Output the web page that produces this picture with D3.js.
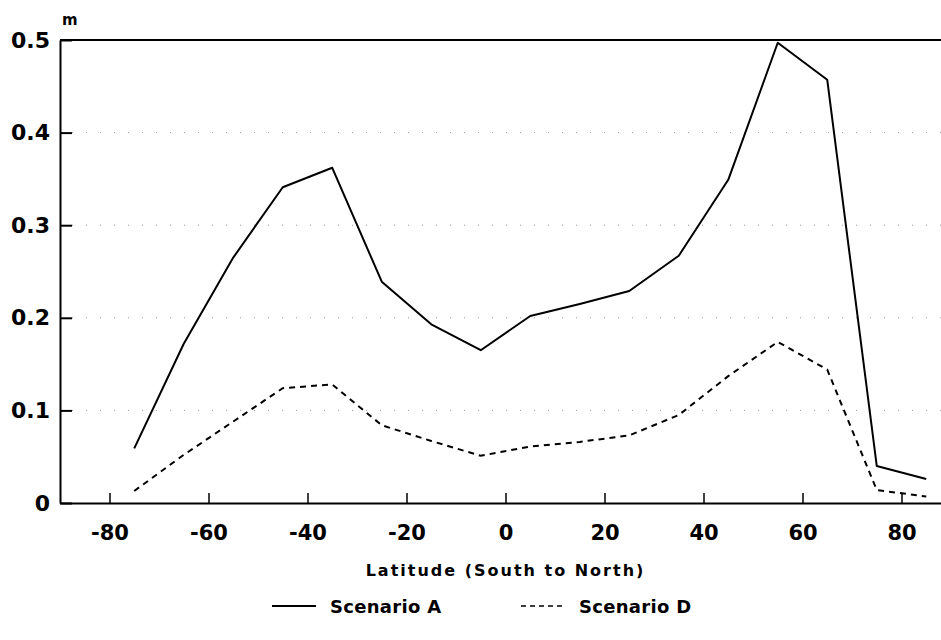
<!DOCTYPE html>
<html>
<head>
<meta charset="utf-8">
<script src="https://cdn.jsdelivr.net/npm/d3@7"></script>
<style>
  body { margin: 0; background: #fff; }
  text { font-family: "DejaVu Sans", sans-serif; font-weight: bold; fill: #000; }
</style>
</head>
<body>
<div id="chart"></div>
<script>
// latitude band centres (degrees)
var latitudes = [-75, -65, -55, -45, -35, -25, -15, -5, 5, 15, 25, 35, 45, 55, 65, 75, 85];

// values in metres
var scenarioA = [0.059, 0.172, 0.265, 0.341, 0.362, 0.239, 0.193, 0.165, 0.202, 0.215, 0.229, 0.267, 0.349, 0.497, 0.457, 0.040, 0.026];
var scenarioD = [0.013, 0.052, 0.088, 0.124, 0.128, 0.084, 0.067, 0.051, 0.061, 0.066, 0.073, 0.095, 0.137, 0.174, 0.144, 0.014, 0.007];

var xTicks = [-80, -60, -40, -20, 0, 20, 40, 60, 80];
var yTicks = [0, 0.1, 0.2, 0.3, 0.4, 0.5];
var gridValues = [0.1, 0.2, 0.3, 0.4];

var seriesNames = ["Scenario A", "Scenario D"];

var width = 941, height = 640;

var svg = d3.select("#chart")
  .append("svg")
    .attr("width", width)
    .attr("height", height);

// scales
var x = d3.scaleLinear().domain([-90, 90]).range([60, 951]);
var y = d3.scaleLinear().domain([0, 0.5]).range([503, 40]);

// dotted grid lines
svg.append("g")
  .selectAll("line")
  .data(gridValues)
  .enter()
  .append("line")
    .attr("x1", 72)
    .attr("x2", width)
    .attr("y1", function(d) { return y(d); })
    .attr("y2", function(d) { return y(d); })
    .attr("stroke", "#999")
    .attr("stroke-width", 1)
    .attr("stroke-dasharray", "1,13");

// top frame line at 0.5
svg.append("line")
  .attr("x1", x(-90))
  .attr("x2", width)
  .attr("y1", y(0.5))
  .attr("y2", y(0.5))
  .attr("stroke", "#000")
  .attr("stroke-width", 2);

// x axis (plain hyphen for negatives, like the original)
var xAxis = svg.append("g")
  .attr("transform", "translate(0," + y(0) + ")")
  .call(d3.axisBottom(x)
    .tickValues(xTicks)
    .tickSize(-10)
    .tickSizeOuter(0)
    .tickPadding(22)
    .tickFormat(function(d) { return String(d); }));

xAxis.select(".domain").attr("stroke-width", 2);
xAxis.selectAll(".tick line").attr("stroke-width", 1.5);
xAxis.selectAll("text").style("font-size", "21px");

// y axis
var yAxis = svg.append("g")
  .attr("transform", "translate(" + x(-90) + ",0)")
  .call(d3.axisLeft(y)
    .tickValues(yTicks)
    .tickSize(-12)
    .tickSizeOuter(0)
    .tickPadding(10)
    .tickFormat(function(d) { return d === 0 ? "0" : d3.format(".1f")(d); }));

yAxis.select(".domain").attr("stroke-width", 2);
yAxis.selectAll(".tick line").attr("stroke-width", 2);
yAxis.selectAll("text").style("font-size", "22px");

// unit label
svg.append("text")
  .attr("x", 62)
  .attr("y", 25)
  .style("font-size", "15px")
  .text("m");

// axis title
svg.append("text")
  .attr("x", x(0))
  .attr("y", 576)
  .attr("text-anchor", "middle")
  .style("font-size", "16px")
  .style("letter-spacing", "2px")
  .text("Latitude (South to North)");

// lines
var line = d3.line()
  .x(function(d) { return x(d[0]); })
  .y(function(d) { return y(d[1]); });

svg.append("path")
  .datum(d3.zip(latitudes, scenarioA))
  .attr("fill", "none")
  .attr("stroke", "#000")
  .attr("stroke-width", 2)
  .attr("stroke-linejoin", "round")
  .attr("d", line);

svg.append("path")
  .datum(d3.zip(latitudes, scenarioD))
  .attr("fill", "none")
  .attr("stroke", "#000")
  .attr("stroke-width", 2)
  .attr("stroke-dasharray", "6,5")
  .attr("d", line);

// legend
var legend = svg.append("g");
var legendItems = [
  { name: seriesNames[0], x: 272, dash: null },
  { name: seriesNames[1], x: 521, dash: "5,4" }
];

legendItems.forEach(function(d) {
  legend.append("line")
    .attr("x1", d.x)
    .attr("x2", d.x + 44)
    .attr("y1", 606)
    .attr("y2", 606)
    .attr("stroke", "#000")
    .attr("stroke-width", d.dash ? 1.5 : 2)
    .attr("stroke-dasharray", d.dash);
  legend.append("text")
    .attr("x", d.x + 58)
    .attr("y", 613)
    .style("font-size", "18px")
    .style("letter-spacing", "0.3px")
    .text(d.name);
});
</script>
</body>
</html>
